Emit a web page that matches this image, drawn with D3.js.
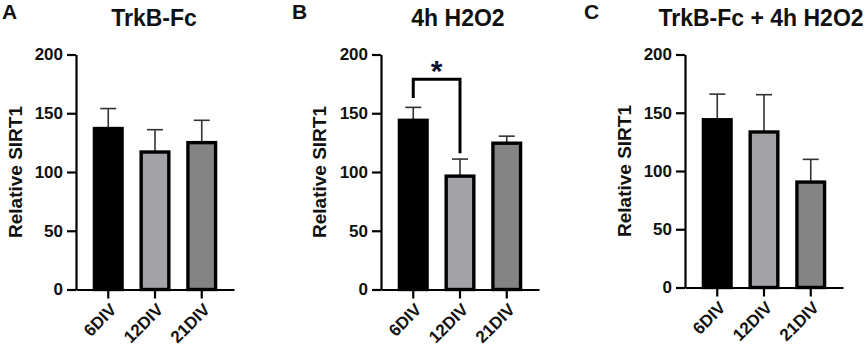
<!DOCTYPE html>
<html>
<head>
<meta charset="utf-8">
<script src="https://cdn.jsdelivr.net/npm/d3@7"></script>
<style>
  body { margin: 0; background: #fff; }
  text { font-family: "Liberation Sans", Arial, sans-serif; font-weight: bold; fill: #111; }
</style>
</head>
<body>
<div id="chart"></div>
<script>
// data
var categories = ["6DIV", "12DIV", "21DIV"];
var yTicks = [0, 50, 100, 150, 200];

var trkbMeans = [137, 117, 125];
var trkbErr   = [17, 19, 19];

var h2o2Means = [144, 96.5, 124.5];
var h2o2Err   = [11, 14.5, 6];

var comboMeans = [144, 133.5, 90.5];
var comboErr   = [22, 32, 19.5];

var barColors = ["#000000", "#a3a3a7", "#848484"];

var W = 865, H = 354;

var svg = d3.select("#chart").append("svg")
    .attr("width", W)
    .attr("height", H);

// one entry per panel: layout + which arrays to use
var panels = [
  {letter: "A", title: "TrkB-Fc", means: trkbMeans, err: trkbErr,
   x0: 76, y0: 289.5, y1: 54.5, letterX: 2, titleX: 154, labelX: 15},
  {letter: "B", title: "4h H2O2", means: h2o2Means, err: h2o2Err,
   x0: 381, y0: 289.5, y1: 54.5, letterX: 292, titleX: 458, labelX: 319, sig: true},
  {letter: "C", title: "TrkB-Fc + 4h H2O2", means: comboMeans, err: comboErr,
   x0: 685, y0: 287.5, y1: 54.5, letterX: 584, titleX: 761, labelX: 624}
];

panels.forEach(function(p) {
  var g = svg.append("g");

  var x = d3.scaleBand()
      .domain(categories)
      .range([p.x0, p.x0 + 158])
      .paddingInner(0.34)
      .paddingOuter(0.36);

  var y = d3.scaleLinear()
      .domain([0, 200])
      .range([p.y0, p.y1]);

  // error bars (upper only), drawn under the bars
  var eb = g.append("g").selectAll("g")
    .data(categories)
    .enter().append("g");
  eb.append("line")
      .attr("x1", function(d) { return x(d) + x.bandwidth() / 2; })
      .attr("x2", function(d) { return x(d) + x.bandwidth() / 2; })
      .attr("y1", function(d, i) { return y(p.means[i]); })
      .attr("y2", function(d, i) { return y(p.means[i] + p.err[i]); })
      .attr("stroke", "#333")
      .attr("stroke-width", 1.6);
  eb.append("line")
      .attr("x1", function(d) { return x(d) + x.bandwidth() / 2 - 8; })
      .attr("x2", function(d) { return x(d) + x.bandwidth() / 2 + 8; })
      .attr("y1", function(d, i) { return y(p.means[i] + p.err[i]); })
      .attr("y2", function(d, i) { return y(p.means[i] + p.err[i]); })
      .attr("stroke", "#333")
      .attr("stroke-width", 1.6);

  // bars
  g.append("g").selectAll("rect")
    .data(categories)
    .enter().append("rect")
      .attr("x", function(d) { return x(d) + 1.6; })
      .attr("width", x.bandwidth() - 3.2)
      .attr("y", function(d, i) { return y(p.means[i]); })
      .attr("height", function(d, i) { return y(0) - y(p.means[i]); })
      .attr("fill", function(d, i) { return barColors[i]; })
      .attr("stroke", "#000")
      .attr("stroke-width", 3.4);

  // axes
  var yAxis = g.append("g")
      .attr("transform", "translate(" + p.x0 + ",0)")
      .call(d3.axisLeft(y).tickValues(yTicks).tickSize(9).tickSizeOuter(0).tickPadding(4));
  yAxis.selectAll("text").style("font-size", "17px");

  var xAxis = g.append("g")
      .attr("transform", "translate(0," + p.y0 + ")")
      .call(d3.axisBottom(x).tickSize(9).tickSizeOuter(0));
  xAxis.selectAll("text")
      .style("font-size", "17px")
      .attr("text-anchor", "end")
      .attr("y", 0)
      .attr("dy", "0.35em")
      .attr("transform", "translate(5,17) rotate(-45)");

  g.selectAll(".domain, .tick line")
      .attr("stroke", "#000")
      .attr("stroke-width", 2.2);

  // y label
  g.append("text")
      .attr("transform", "translate(" + p.labelX + "," + ((p.y0 + p.y1) / 2) + ") rotate(-90)")
      .attr("text-anchor", "middle")
      .attr("dy", "0.35em")
      .style("font-size", "19px")
      .text("Relative SIRT1");

  // title and panel letter
  g.append("text")
      .attr("x", p.titleX)
      .attr("y", 26)
      .attr("text-anchor", "middle")
      .style("font-size", "23px")
      .text(p.title);
  g.append("text")
      .attr("x", p.letterX)
      .attr("y", 19)
      .style("font-size", "21px")
      .text(p.letter);

  // significance bracket 6DIV vs 12DIV
  if (p.sig) {
    var xa = x(categories[0]) + x.bandwidth() / 2,
        xb = x(categories[1]) + x.bandwidth() / 2;
    g.append("path")
        .attr("d", "M" + xa + "," + y(163) + "V" + y(179) + "H" + xb + "V" + y(116))
        .attr("fill", "none")
        .attr("stroke", "#000")
        .attr("stroke-width", 3);
    g.append("text")
        .attr("x", (xa + xb) / 2)
        .attr("y", y(179) + 2)
        .attr("text-anchor", "middle")
        .style("font-size", "30px")
        .style("fill", "#0d1030")
        .text("*");
  }
});
</script>
</body>
</html>
